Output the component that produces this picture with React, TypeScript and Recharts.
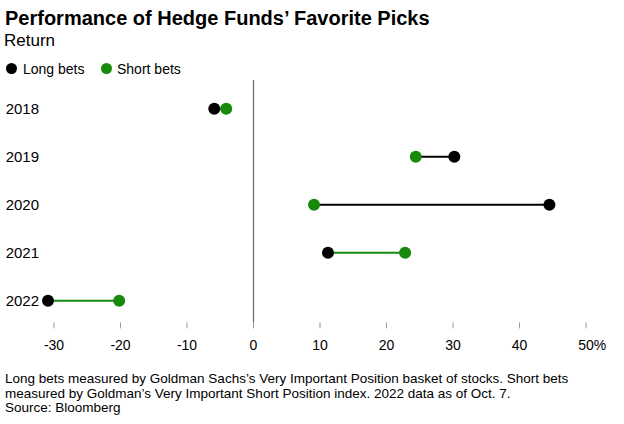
import React from "react";
import { ScatterChart, Scatter, XAxis, YAxis, ReferenceLine } from "recharts";

const years = [2018, 2019, 2020, 2021, 2022];
const longBets = [-5.9, 30.2, 44.5, 11.2, -30.9];
const shortBets = [-4.1, 24.4, 9.1, 22.8, -20.2];
const xTicks = [-30, -20, -10, 0, 10, 20, 30, 40, 50];

const BLACK = "#000000";
const GREEN = "#178a0c";
const FONT = "'Liberation Sans', Arial, sans-serif";

const Dot = (props: any) => (
  <circle cx={props.cx} cy={props.cy} r={6} fill={props.payload.s === "long" ? BLACK : GREEN} />
);

const XTick = ({ x, y, payload }: any) => {
  const v = payload.value;
  return (
    <g>
      <text x={x} y={y} dy="0.71em" textAnchor="middle" fontSize={14} fill="#000" fontFamily={FONT}>
        {v}
      </text>
      {v === 50 && (
        <text x={x + 7.8} y={y} dy="0.71em" textAnchor="start" fontSize={14} fill="#000" fontFamily={FONT}>
          %
        </text>
      )}
    </g>
  );
};

export default function App() {
  return (
    <div style={{ position: "absolute", left: 0, top: 0, width: 624, height: 424, background: "#fff", fontFamily: FONT, color: "#000" }}>
      <div style={{ position: "absolute", left: 5, top: 8, fontSize: 20, fontWeight: 700, lineHeight: "20px", whiteSpace: "nowrap" }}>
        Performance of Hedge Funds’ Favorite Picks
      </div>
      <div style={{ position: "absolute", left: 4, top: 32, fontSize: 17, lineHeight: "17px" }}>Return</div>

      <div style={{ position: "absolute", left: 6, top: 63, width: 11, height: 11, borderRadius: "50%", background: BLACK }} />
      <div style={{ position: "absolute", left: 23, top: 61.5, fontSize: 14, lineHeight: "14px" }}>Long bets</div>
      <div style={{ position: "absolute", left: 100.5, top: 63, width: 11, height: 11, borderRadius: "50%", background: GREEN }} />
      <div style={{ position: "absolute", left: 117, top: 61.5, fontSize: 14, lineHeight: "14px" }}>Short bets</div>

      <div style={{ position: "absolute", left: 0, top: 0 }}>
        <ScatterChart width={624} height={360} margin={{ top: 80, right: 24.7, bottom: 7.6, left: 0 }}>
          <XAxis
            type="number"
            dataKey="x"
            domain={[-32, 52]}
            ticks={xTicks}
            axisLine={false}
            tickLine={{ stroke: "#999" }}
            tickSize={6}
            tickMargin={12}
            height={30}
            tick={<XTick />}
            interval={0}
          />
          <YAxis
            type="number"
            dataKey="y"
            domain={[2017.4, 2022.45]}
            reversed
            ticks={years}
            axisLine={false}
            tickLine={false}
            tickSize={0}
            tickMargin={1.7}
            width={40.7}
            interval={0}
            tick={{ fontSize: 15, fill: "#000", fontFamily: FONT }}
          />
          <ReferenceLine x={0} stroke="#666" strokeWidth={1.2} />
          {years.map((yr, i) => {
            const pts = [
              { x: longBets[i], y: yr, s: "long" },
              { x: shortBets[i], y: yr, s: "short" },
            ];
            const lineColor = shortBets[i] > longBets[i] ? GREEN : BLACK;
            return (
              <Scatter
                key={yr}
                data={pts}
                line={{ stroke: lineColor, strokeWidth: 2 }}
                lineType="joint"
                shape={Dot}
                isAnimationActive={false}
              />
            );
          })}
        </ScatterChart>
      </div>

      <div style={{ position: "absolute", left: 5, top: 372, fontSize: 13.5, lineHeight: "14.5px", width: 615, whiteSpace: "nowrap" }}>
        Long bets measured by Goldman Sachs’s Very Important Position basket of stocks. Short bets
        <br />
        measured by Goldman’s Very Important Short Position index. 2022 data as of Oct. 7.
        <br />
        Source: Bloomberg
      </div>
    </div>
  );
}
